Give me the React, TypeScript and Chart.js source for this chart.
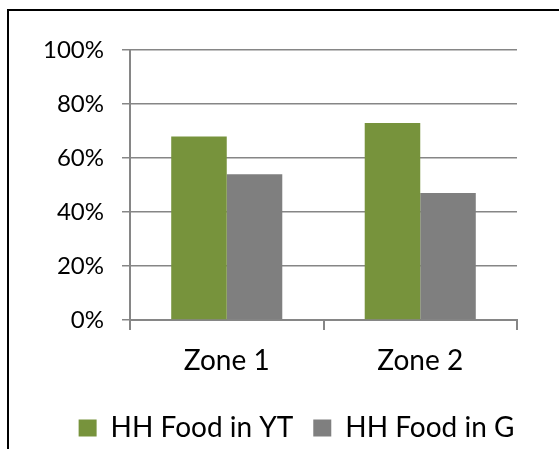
import React, { useEffect, useRef } from "react";
import { Chart, registerables } from "chart.js";

Chart.register(...registerables);

const categories = ["Zone 1", "Zone 2"];
const seriesNames = ["HH Food in YT", "HH Food in G"];
const foodInYT = [68, 73];
const foodInG = [54, 47];
const yMin = 0;
const yMax = 100;
const yStep = 20;

const FONT = "Lato, 'Open Sans', sans-serif";

const shiftLegend = {
  id: "shiftLegend",
  afterLayout(chart: any) {
    const lg = chart.legend;
    if (lg) {
      lg.left += 38;
      lg.right += 38;
    }
  },
};

export default function App() {
  const ref = useRef<HTMLCanvasElement>(null);

  useEffect(() => {
    if (!ref.current) return;
    const chart = new Chart(ref.current, {
      type: "bar",
      data: {
        labels: categories,
        datasets: [
          { label: seriesNames[0], data: foodInYT, backgroundColor: "#77933C", borderWidth: 0 },
          { label: seriesNames[1], data: foodInG, backgroundColor: "#7F7F7F", borderWidth: 0 },
        ],
      },
      plugins: [shiftLegend],
      options: {
        responsive: false,
        animation: false,
        layout: { padding: { left: 0, right: 42, top: 50, bottom: 0 } },
        datasets: { bar: { categoryPercentage: 0.574, barPercentage: 1 } },
        scales: {
          x: {
            grid: {
              offset: true,
              drawOnChartArea: false,
              drawTicks: true,
              tickLength: 10,
              color: "#868686",
              lineWidth: 2,
            },
            border: { display: true, color: "#868686", width: 2 },
            ticks: { font: { family: FONT, size: 28 }, color: "#000", padding: 14 },
            afterFit: (s: any) => {
              s.height = 74;
            },
          },
          y: {
            min: yMin,
            max: yMax,
            ticks: {
              stepSize: yStep,
              callback: (v: any) => v + "%",
              font: { family: FONT, size: 24 },
              color: "#000",
              padding: 18,
            },
            grid: { color: "#868686", lineWidth: 1.5, tickLength: 8 },
            border: { display: true, color: "#868686", width: 2 },
            afterFit: (s: any) => {
              s.width = 130;
            },
          },
        },
        plugins: {
          legend: {
            position: "bottom",
            labels: {
              boxWidth: 18,
              boxHeight: 17,
              padding: 20,
              font: { family: FONT, size: 28 },
              color: "#000",
            },
          },
          tooltip: { enabled: false },
        },
      },
    });
    return () => chart.destroy();
  }, []);

  return (
    <div
      style={{
        position: "absolute",
        left: 0,
        top: 0,
        width: 559,
        height: 449,
        overflow: "hidden",
        background: "#fff",
      }}
    >
      <div
        style={{
          position: "absolute",
          left: 7,
          top: 9,
          width: 600,
          height: 500,
          borderLeft: "2px solid #000",
          borderTop: "2px solid #000",
        }}
      />
      <canvas
        ref={ref}
        width={559}
        height={452}
        style={{ position: "absolute", left: 0, top: 0, display: "block" }}
      />
    </div>
  );
}
